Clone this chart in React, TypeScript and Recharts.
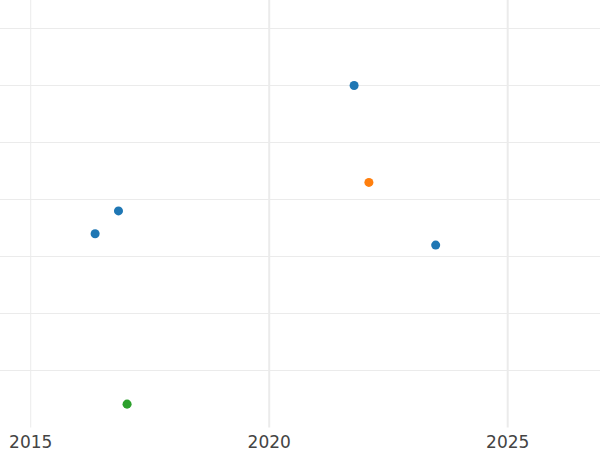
import React from "react";
import { ScatterChart, Scatter, XAxis, YAxis, ReferenceLine, ZAxis } from "recharts";

const blueX = [2021.78, 2016.84, 2016.35, 2023.49];
const blueY = [6.0, 3.8, 3.4, 3.2];
const orangeX = [2022.09];
const orangeY = [4.3];
const greenX = [2017.02];
const greenY = [0.41];

const xTicks = [2015, 2020, 2025];
const yTicks = [1, 2, 3, 4, 5, 6, 7];

const toPts = (xs: number[], ys: number[]) => xs.map((x, i) => ({ x, y: ys[i] }));

const blue = toPts(blueX, blueY);
const orange = toPts(orangeX, orangeY);
const green = toPts(greenX, greenY);

export default function App() {
  return (
    <div style={{ position: "absolute", left: 0, top: 0 }}>
      <ScatterChart width={600} height={450} margin={{ top: 0, right: 0, bottom: 0, left: 0 }}>
        <XAxis
          type="number"
          dataKey="x"
          domain={[2014.356, 2026.935]}
          ticks={xTicks}
          allowDataOverflow
          axisLine={false}
          tickLine={false}
          height={22.5}
          tick={{ fontSize: 17, fill: "#444", fontFamily: "DejaVu Sans" }}
        />
        <YAxis type="number" dataKey="y" domain={[0, 7.5]} ticks={yTicks} hide allowDataOverflow />
        <ZAxis range={[64, 64]} />
        {yTicks.map((t) => (
          <ReferenceLine key={"h" + t} y={t} stroke="#ebebeb" strokeWidth={1} />
        ))}
        {xTicks.map((t, i) => (
          <ReferenceLine key={"v" + t} x={t} stroke="#ebebeb" strokeWidth={i === 0 ? 1 : 2} />
        ))}
        <Scatter data={blue} fill="#1f77b4" isAnimationActive={false} />
        <Scatter data={orange} fill="#ff7f0e" isAnimationActive={false} />
        <Scatter data={green} fill="#2ca02c" isAnimationActive={false} />
      </ScatterChart>
    </div>
  );
}
